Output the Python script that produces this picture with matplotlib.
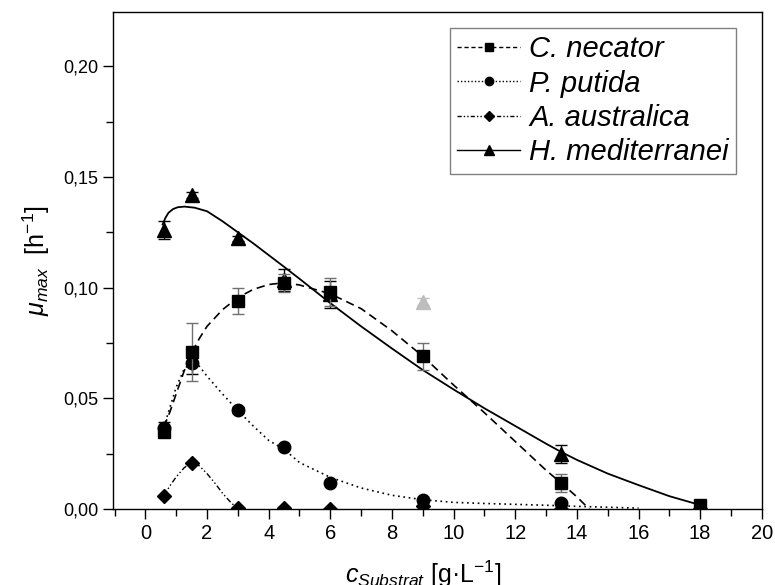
import matplotlib
matplotlib.use('Agg')
import matplotlib.pyplot as plt
from matplotlib.ticker import MultipleLocator, FuncFormatter
from matplotlib.lines import Line2D

plt.rcParams['font.family'] = ['Liberation Sans', 'DejaVu Sans']
plt.rcParams['mathtext.fontset'] = 'custom'
plt.rcParams['mathtext.rm'] = 'Liberation Sans'
plt.rcParams['mathtext.it'] = 'Liberation Sans:italic'

# ---- measured data ----
x_conc = [0.6, 1.5, 3, 4.5, 6, 9, 13.5, 18]
cn_y = [0.035, 0.071, 0.094, 0.102, 0.098, 0.069, 0.0116, 0.0018]
cn_err = [0.002, 0.013, 0.006, 0.004, 0.0065, 0.006, 0.004, 0.0005]
pp_y = [0.0364, 0.066, 0.0447, 0.0281, 0.0119, 0.0041, 0.0026, 0.0]
pp_err = [0.003, 0.005, 0.0015, 0.001, 0.0008, 0.0008, 0.0008, 0.0]
aa_y = [0.006, 0.0209, 0.0005, 0.0005, 0.0, 0.0014, 0.0, 0.0]
hm_x = [0.6, 1.5, 3, 4.5, 6, 13.5, 18]
hm_y = [0.126, 0.1418, 0.1222, 0.1034, 0.097, 0.0247, 0.0015]
hm_err = [0.004, 0.0015, 0.001, 0.005, 0.006, 0.004, 0.0005]
hm_out_x = [9]
hm_out_y = [0.0936]
hm_out_err = [0.0015]

# ---- fitted model curves ----
cn_fit_x = [0.6, 0.8, 1.0, 1.25, 1.5, 1.75, 2.0, 2.5, 3.0, 3.5, 4.0, 4.5, 5.0, 5.5, 6.0,
            7.0, 8.0, 9.0, 10.0, 11.0, 12.0, 13.0, 13.5, 14.0, 14.4]
cn_fit_y = [0.037, 0.044, 0.052, 0.062, 0.0705, 0.077, 0.0825, 0.090, 0.0955, 0.0992, 0.1014,
            0.1022, 0.1012, 0.0992, 0.0972, 0.0905, 0.0805, 0.069, 0.056, 0.0435, 0.0305,
            0.0175, 0.0116, 0.0055, 0.0]
pp_fit_x = [0.6, 0.8, 1.0, 1.25, 1.5, 1.75, 2.0, 2.5, 3.0, 3.5, 4.0, 4.5, 5.0, 6.0, 7.0,
            8.0, 9.0, 10.0, 11.0, 12.0, 13.0, 14.0, 15.0, 16.0]
pp_fit_y = [0.037, 0.046, 0.055, 0.063, 0.0665, 0.0645, 0.060, 0.052, 0.0445, 0.0375, 0.031,
            0.027, 0.021, 0.0143, 0.0095, 0.0062, 0.0042, 0.003, 0.0025, 0.0021, 0.0017,
            0.0012, 0.0008, 0.0004]
aa_fit_x = [0.6, 0.8, 1.0, 1.25, 1.5, 1.75, 2.0, 2.25, 2.5, 2.75, 3.0]
aa_fit_y = [0.006, 0.0105, 0.0145, 0.0185, 0.0212, 0.0195, 0.016, 0.0118, 0.0072, 0.0033, 0.0]
hm_fit_x = [0.56, 0.65, 0.75, 0.9, 1.05, 1.27, 1.6, 2.0, 2.5, 3.0, 3.5, 4.0, 4.5, 5.0, 6.0,
            7.0, 8.0, 9.0, 10.0, 11.0, 12.0, 13.0, 13.5, 14.0, 15.0, 16.0, 17.0, 18.0]
hm_fit_y = [0.1285, 0.1315, 0.1338, 0.1355, 0.1363, 0.1366, 0.1361, 0.1345, 0.130, 0.125,
            0.120, 0.1147, 0.1094, 0.104, 0.093, 0.0825, 0.0725, 0.0628, 0.054, 0.0455,
            0.0375, 0.0295, 0.0257, 0.0222, 0.016, 0.0108, 0.0058, 0.0018]

labels = ['C. necator', 'P. putida', 'A. australica', 'H. mediterranei']

fig = plt.figure(figsize=(7.75, 5.85), dpi=100)
ax = fig.add_axes([0.1458, 0.1299, 0.8372, 0.8496])

ls_cn = (0, (5, 3))
ls_pp = (0, (1, 2.2))
ls_aa = (0, (4, 1.8, 1, 1.8, 1, 1.8))

ax.plot(cn_fit_x, cn_fit_y, color='black', lw=1.2, ls=ls_cn, zorder=2)
ax.plot(pp_fit_x, pp_fit_y, color='black', lw=1.2, ls=ls_pp, zorder=2)
ax.plot(aa_fit_x, aa_fit_y, color='black', lw=1.0, ls=ls_aa, zorder=2)
ax.plot(hm_fit_x, hm_fit_y, color='black', lw=1.3, ls='-', zorder=2)

ekw = dict(capsize=4, elinewidth=1.0, capthick=1.0, ls='none')
ax.errorbar(hm_out_x, hm_out_y, yerr=hm_out_err, marker='^', ms=10, color='#bdbdbd',
            ecolor='#bdbdbd', zorder=3, **ekw)
ax.errorbar(hm_x, hm_y, yerr=hm_err, marker='^', ms=10, color='black', ecolor='black',
            zorder=3, **ekw)
ax.errorbar(x_conc, aa_y, marker='D', ms=7.5, color='black', zorder=4, ls='none')
ax.errorbar(x_conc, pp_y, yerr=pp_err, marker='o', ms=9, color='black', ecolor='black',
            zorder=4, **ekw)
ax.errorbar(x_conc, cn_y, yerr=cn_err, marker='s', ms=8, color='black', ecolor='#707070',
            zorder=5, **ekw)

handles = [
    Line2D([], [], color='black', lw=1.0, ls=(0, (3, 2)), marker='s', ms=6),
    Line2D([], [], color='black', lw=1.0, ls=(0, (1, 1.5)), marker='o', ms=6),
    Line2D([], [], color='black', lw=1.0, ls=(0, (3, 1.5, 1, 1.5, 1, 1.5)), marker='D', ms=5.5),
    Line2D([], [], color='black', lw=1.0, ls='-', marker='^', ms=6.5),
]
leg = ax.legend(handles, labels, loc='upper right', bbox_to_anchor=(0.96, 0.968),
                prop={'size': 21, 'style': 'italic'}, frameon=True, fancybox=False,
                edgecolor='#808080', framealpha=1, handlelength=2.15, handletextpad=0.3,
                labelspacing=0.22, borderpad=0.25, borderaxespad=0)
leg.get_frame().set_linewidth(1.0)

ax.set_xlim(-1.05, 20)
ax.set_ylim(0, 0.2245)
ax.xaxis.set_major_locator(MultipleLocator(2))
ax.xaxis.set_minor_locator(MultipleLocator(1))
ax.yaxis.set_major_locator(MultipleLocator(0.05))
ax.yaxis.set_minor_locator(MultipleLocator(0.025))
ax.yaxis.set_major_formatter(FuncFormatter(lambda v, p: f"{v:.2f}".replace('.', ',')))
ax.xaxis.set_major_formatter(FuncFormatter(lambda v, p: f"{v:.0f}"))
ax.tick_params(axis='both', which='both', direction='out', width=1.0)
ax.tick_params(axis='y', labelsize=13)
ax.tick_params(axis='x', labelsize=14.5, pad=4)
ax.tick_params(axis='both', which='major', length=7)
ax.tick_params(axis='both', which='minor', length=5)
for s in ax.spines.values():
    s.set_linewidth(1.0)

ax.set_ylabel(r'$\mu_{max}$  [h$^{\mathrm{-1}}$]', fontsize=18, labelpad=8)
ax.set_xlabel(r'$c_{Substrat}$ [g·L$^{\mathrm{-1}}$]', fontsize=18)
ax.xaxis.set_label_coords(0.478, -0.099)

fig.savefig('out.png', dpi=100)
